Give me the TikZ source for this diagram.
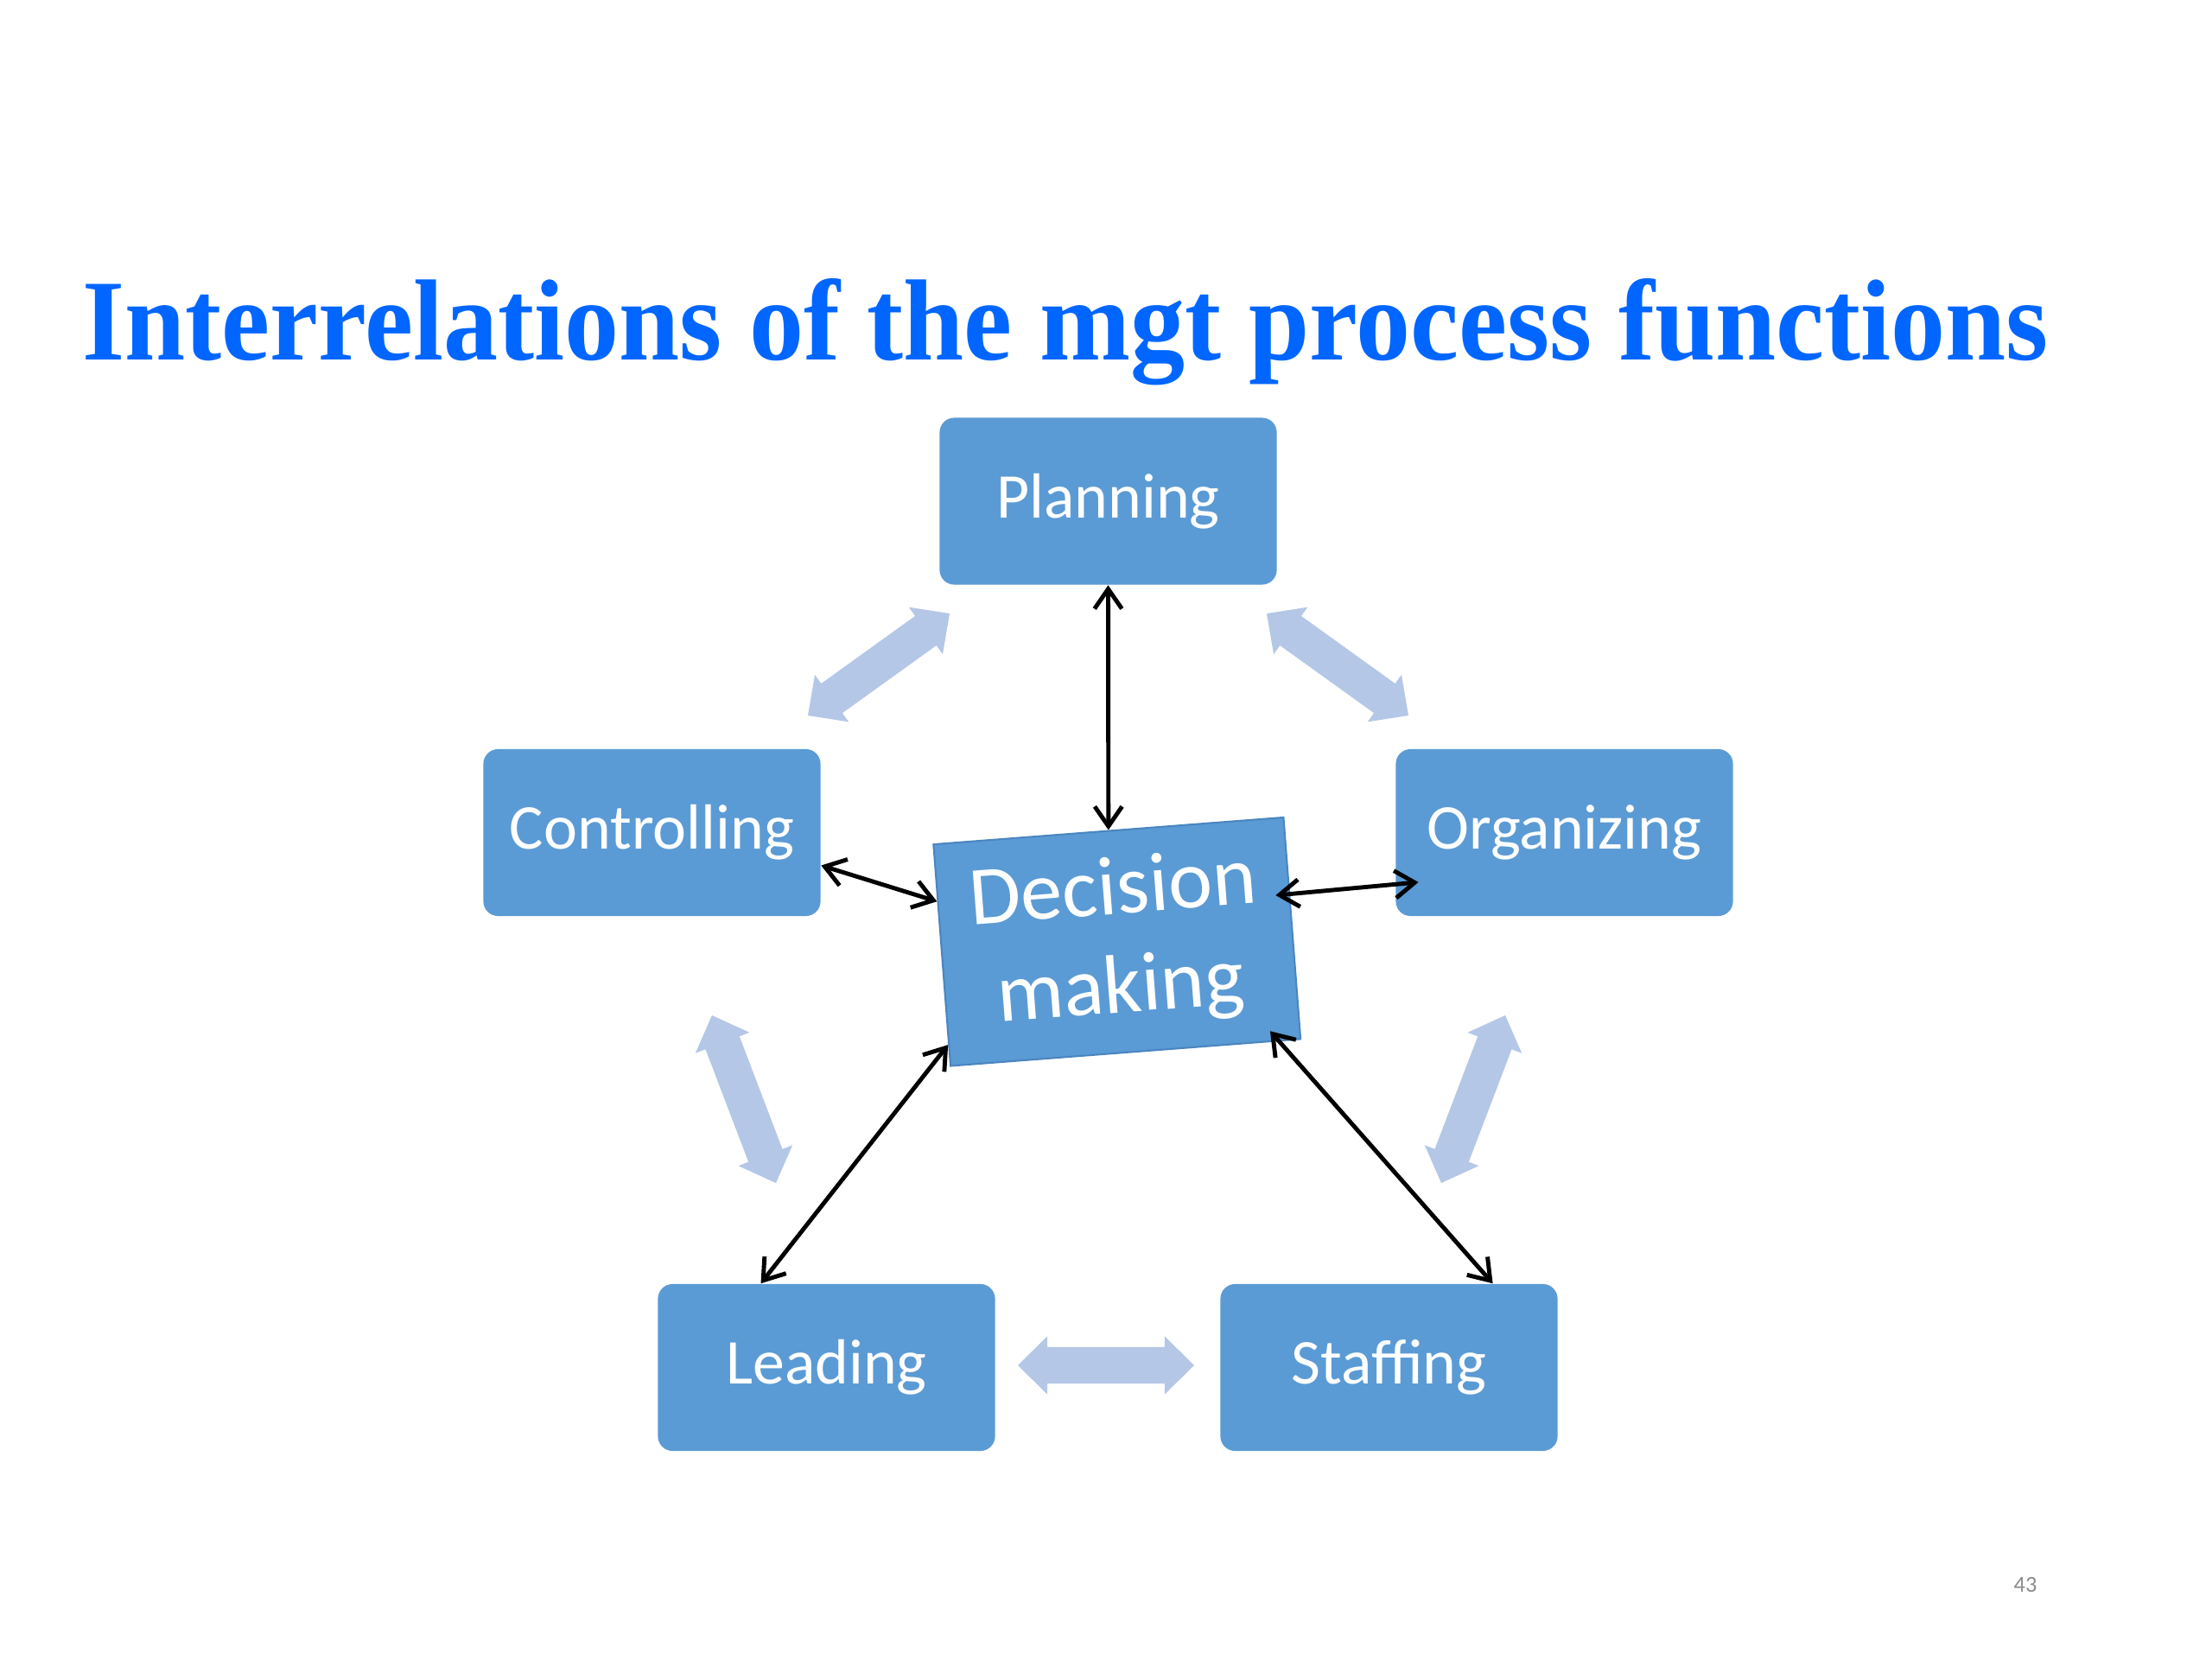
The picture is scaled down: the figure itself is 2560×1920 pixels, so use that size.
\documentclass[tikz,border=0pt]{standalone}
\usepackage{fontspec}
\setmainfont{Carlito}
\newfontfamily\titlefont{Liberation Serif}
\usetikzlibrary{calc,arrows.meta}
\definecolor{boxblue}{HTML}{5B9BD5}
\definecolor{boxedge}{HTML}{4A86C0}
\definecolor{lightarr}{HTML}{B4C7E7}
\definecolor{titleblue}{HTML}{0066FF}
\definecolor{pagegrey}{HTML}{8C8C8C}
\newcommand\blockarrow[2]{%
  \coordinate (ha) at ($(#1)!0.34cm!(#2)$);
  \coordinate (hb) at ($(#2)!0.34cm!(#1)$);
  \fill[lightarr] (#1) -- ($(ha)!0.335cm!90:(#2)$) -- ($(ha)!0.21cm!90:(#2)$)
    -- ($(hb)!0.21cm!90:(#2)$) -- ($(hb)!0.335cm!90:(#2)$) -- (#2)
    -- ($(hb)!0.335cm!-90:(#2)$) -- ($(hb)!0.21cm!-90:(#2)$)
    -- ($(ha)!0.21cm!-90:(#2)$) -- ($(ha)!0.335cm!-90:(#2)$) -- cycle;
}
\tikzset{
  fbox/.style={fill=boxblue, rounded corners=0.17cm, minimum width=3.9cm,
    minimum height=1.93cm, inner sep=0pt, text=white,
    font=\fontsize{21}{25}\selectfont},
  conn/.style={{Straight Barb[length=6.5pt,width=9pt]}-{Straight Barb[length=6.5pt,width=9pt]},
    line width=1.4pt, black}
}
\begin{document}
\begin{tikzpicture}[x=0.01cm,y=0.01cm]
\fill[white] (0,0) rectangle (2560,1920);
\useasboundingbox (0,0) rectangle (2560,1920);

\node[anchor=base west, text=titleblue, inner sep=0pt] (title) at (95,1503)
  {\resizebox{22.74cm}{0.94cm}{\titlefont\bfseries Interrelations of the mgt process functions}};

% light block arrows between outer boxes
\coordinate (a1) at (935,1092);  \coordinate (a2) at (1099,1210);
\coordinate (b1) at (1466,1210); \coordinate (b2) at (1630,1092);
\coordinate (c1) at (824,745);   \coordinate (c2) at (898,551);
\coordinate (d1) at (1742,745);  \coordinate (d2) at (1668,551);
\coordinate (e1) at (1178,340);  \coordinate (e2) at (1382,340);
\blockarrow{a1}{a2}
\blockarrow{b1}{b2}
\blockarrow{c1}{c2}
\blockarrow{d1}{d2}
\blockarrow{e1}{e2}

\node[fbox] (plan)  at (1282.5,1340) {Planning};
\node[fbox] (cont)  at (754.5,956.5) {Controlling};
\node[fbox] (org)   at (1810.5,956.5) {Organizing};
\node[fbox] (lead)  at (956.5,337.5) {Leading};
\node[fbox] (staff) at (1607.5,337.5) {Staffing};

\node[draw=boxedge, line width=0.6pt, fill=boxblue, rotate=4.4,
  minimum width=4.06cm, minimum height=2.57cm, inner sep=0pt, text=white,
  align=center, font=\fontsize{27.5}{32.5}\selectfont] (dm) at (1292.75,830.25)
  {Decision\\making};

\draw[conn] (plan.south) -- (dm.north);
\draw[conn] (cont.-11.5) -- (dm.163);
\draw[conn, shorten <=-0.17cm, shorten >=-0.27cm] (dm.11) -- (org.197);
\draw[conn] (dm.207) -- (lead.128);
\draw[conn, shorten <=-0.16cm] (dm.-36) -- (staff.39);

\node[text=pagegrey, font=\fontsize{7.5}{9}\selectfont] (pg) at (2344,86) {43};
\end{tikzpicture}
\end{document}
